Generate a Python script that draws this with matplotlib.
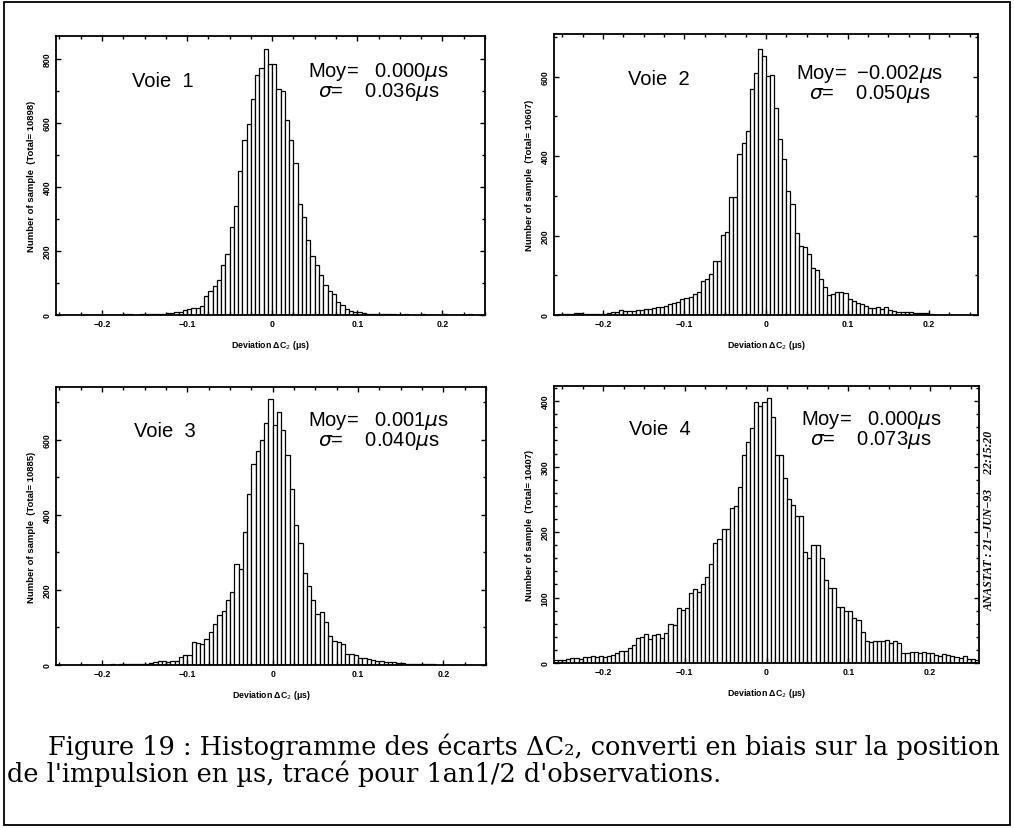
import matplotlib
matplotlib.use("Agg")
import matplotlib.pyplot as plt
import numpy as np
from matplotlib.ticker import MultipleLocator, FixedLocator
from matplotlib.patches import Rectangle

plt.rcParams['font.family'] = ['Liberation Sans', 'DejaVu Sans']

# bin left edges (width 0.005 us)
bin_width = 0.005
bin_left = np.round(np.arange(-0.26, 0.26 - 1e-9, bin_width), 4)

# counts per bin
voie1 = [0, 0, 0, 0, 1, 0, 0, 1, 0, 0, 1, 0, 0, 1, 1, 0, 1, 2, 2, 1, 1, 2, 2, 3, 3, 4, 4,
         5, 6, 8, 10, 15, 20, 22, 22, 28, 60, 75, 90, 110, 155, 190, 275, 340, 450, 545, 595,
         675, 750, 770, 830, 785, 785, 705, 700, 610, 545, 475, 345, 305, 235, 185, 155, 125,
         95, 75, 65, 40, 30, 20, 12, 10, 8, 5,
         4, 3, 3, 3, 2, 2, 2, 1, 1, 2, 1, 1, 1, 2, 1, 1, 1, 1, 2, 1, 1, 1, 1, 1, 2, 1, 1, 0, 0, 0]
voie2 = [1, 2, 2, 2, 3, 5, 4, 3, 2, 3, 2, 3, 3, 4, 7, 7, 12, 11, 11, 11, 12, 12, 15, 15, 17,
         19, 21, 23, 27, 29, 32, 40, 42, 46, 52, 57, 86, 90, 102, 135, 135, 202, 208, 298, 298,
         404, 434, 462, 569, 608, 669,
         651, 602, 604, 521, 444, 392, 313, 280, 207, 173, 171, 153, 119, 112, 90, 71, 50, 54,
         58, 59, 55, 40, 34, 29, 27, 22, 17, 17, 21, 14, 20, 12, 10, 8, 8, 7, 7, 6, 6, 5, 5, 2,
         1, 1, 1, 1, 0, 1, 0, 0, 0, 0, 0]
voie3 = [0, 0, 0, 0, 0, 0, 1, 0, 0, 1, 1, 0, 1, 1, 2, 1, 2, 2, 3, 2, 3,
         3, 4, 5, 8, 12, 10, 8, 10, 12, 22, 27, 28, 60, 58, 56, 69, 87, 110, 132, 145, 172, 194,
         269, 256, 354, 456, 536, 571, 598, 643,
         709, 638, 673, 625, 558, 469, 374, 325, 245, 210, 172, 136, 140, 114, 78, 65, 62, 56,
         30, 30, 27, 18, 20, 16, 13, 12, 10, 8, 7, 8, 5, 5, 4, 4, 3, 3, 2, 2, 2, 1, 1, 1, 1, 0,
         1, 0, 0, 1, 0, 0, 0, 0, 0]
voie4 = [4, 5, 5, 6, 8, 7, 6, 9, 9, 10, 9, 10, 9, 10, 13, 16, 18, 19, 23, 28, 38, 39, 44, 37,
         43, 44, 38, 46, 59, 58, 84, 81, 84, 107, 113, 109, 120, 132, 152, 184, 190, 205, 205,
         237, 240, 269, 317, 337, 359,
         398, 393, 398, 405, 376, 318, 318, 282, 250, 242, 225, 224, 170, 160, 180, 181, 161,
         127, 115, 114, 86, 86, 80, 79, 69, 66, 48, 33, 32, 33, 34, 33, 35, 30, 33, 30, 15, 15,
         17, 17, 15, 17, 16, 15, 13, 11, 14, 12, 10, 9, 8, 10, 6, 6, 5]

names = ['Voie  1', 'Voie  2', 'Voie  3', 'Voie  4']
moy = ['  0.000', ' \u22120.002', '  0.001', '  0.000']
sigma = ['0.036', '0.050', '0.040', '0.073']
totals = ['10898', '10607', '10885', '10407']
counts = [voie1, voie2, voie3, voie4]

# axes layout [left, bottom, width, height], y limits, tick steps
positions = [[0.0552, 0.6188, 0.4231, 0.3366],
             [0.5464, 0.6188, 0.4181, 0.3390],
             [0.0552, 0.1966, 0.4241, 0.3353],
             [0.5464, 0.1990, 0.4191, 0.3341]]
xlims = [(-0.254, 0.25), (-0.26, 0.26), (-0.254, 0.25), (-0.26, 0.26)]
ylims = [871, 707, 740, 423]
ymajor = [200, 200, 200, 100]
yminor = [100, 100, 100, 20]
label_xy = [(0.25, 0.84), (0.248, 0.84), (0.253, 0.842), (0.25, 0.845)]
stat_xy = [(0.753, 0.839), (0.745, 0.826), (0.751, 0.845), (0.746, 0.845)]

fig = plt.figure(figsize=(10.14, 8.29), dpi=100)

for i in range(4):
    ax = fig.add_axes(positions[i])
    ax.bar(bin_left, counts[i], width=bin_width, align='edge', color='white',
           edgecolor='black', linewidth=0.9)
    ax.set_xlim(*xlims[i])
    ax.set_ylim(0, ylims[i])
    ax.xaxis.set_major_locator(FixedLocator([-0.2, -0.1, 0, 0.1, 0.2]))
    ax.set_xticklabels(['\u22120.2', '\u22120.1', '0', '0.1', '0.2'])
    ax.xaxis.set_minor_locator(MultipleLocator(0.025))
    ax.yaxis.set_major_locator(MultipleLocator(ymajor[i]))
    ax.yaxis.set_minor_locator(MultipleLocator(yminor[i]))
    ax.tick_params(which='both', direction='in', top=True, right=True, width=1.0)
    ax.tick_params(which='major', length=3.5, labelsize=6.3, pad=3)
    ax.tick_params(which='minor', length=2)
    for lab in ax.get_xticklabels() + ax.get_yticklabels():
        lab.set_fontweight('bold')
    for lab in ax.get_yticklabels():
        lab.set_rotation(90)
        lab.set_va('center')
    for sp in ax.spines.values():
        sp.set_linewidth(1.3)
    ax.set_xlabel('Deviation \u0394C$_2$ (\u03bcs)', fontsize=6.3, fontweight='bold', labelpad=7)
    ax.set_ylabel('Number of sample  (Total= %s)' % totals[i], fontsize=6.8,
                  fontweight='bold', labelpad=5)
    ax.text(label_xy[i][0], label_xy[i][1], names[i], transform=ax.transAxes,
            fontsize=14.5, ha='center', va='center')
    ax.text(stat_xy[i][0], stat_xy[i][1],
            'Moy= %s$\\mu$s\n$\\sigma$=    %s$\\mu$s' % (moy[i], sigma[i]),
            transform=ax.transAxes, fontsize=14.5, ha='center', va='center',
            multialignment='center', linespacing=0.92)

# time stamp on the right of the last panel
fig.text(0.9755, 0.372, 'ANASTAT : 21\u2212JUN\u221293     22:15:20', rotation=90,
         fontsize=8.5, fontweight='bold', fontstyle='italic', family='Liberation Serif',
         ha='center', va='center')

# caption
fig.text(0.047, 0.099, 'Figure 19 : Histogramme des écarts \u0394C\u2082, converti en biais sur la position',
         fontsize=18.45, family='DejaVu Serif', ha='left', va='center')
fig.text(0.007, 0.067, "de l'impulsion en \u00b5s, tracé pour 1an1/2 d'observations.",
         fontsize=18.45, family='DejaVu Serif', ha='left', va='center')

# page frame of the scan
fig.patches.append(Rectangle((0.004, 0.004), 0.992, 0.992, transform=fig.transFigure,
                             fill=False, edgecolor='black', linewidth=1.3))

fig.savefig('out.png', dpi=100)
